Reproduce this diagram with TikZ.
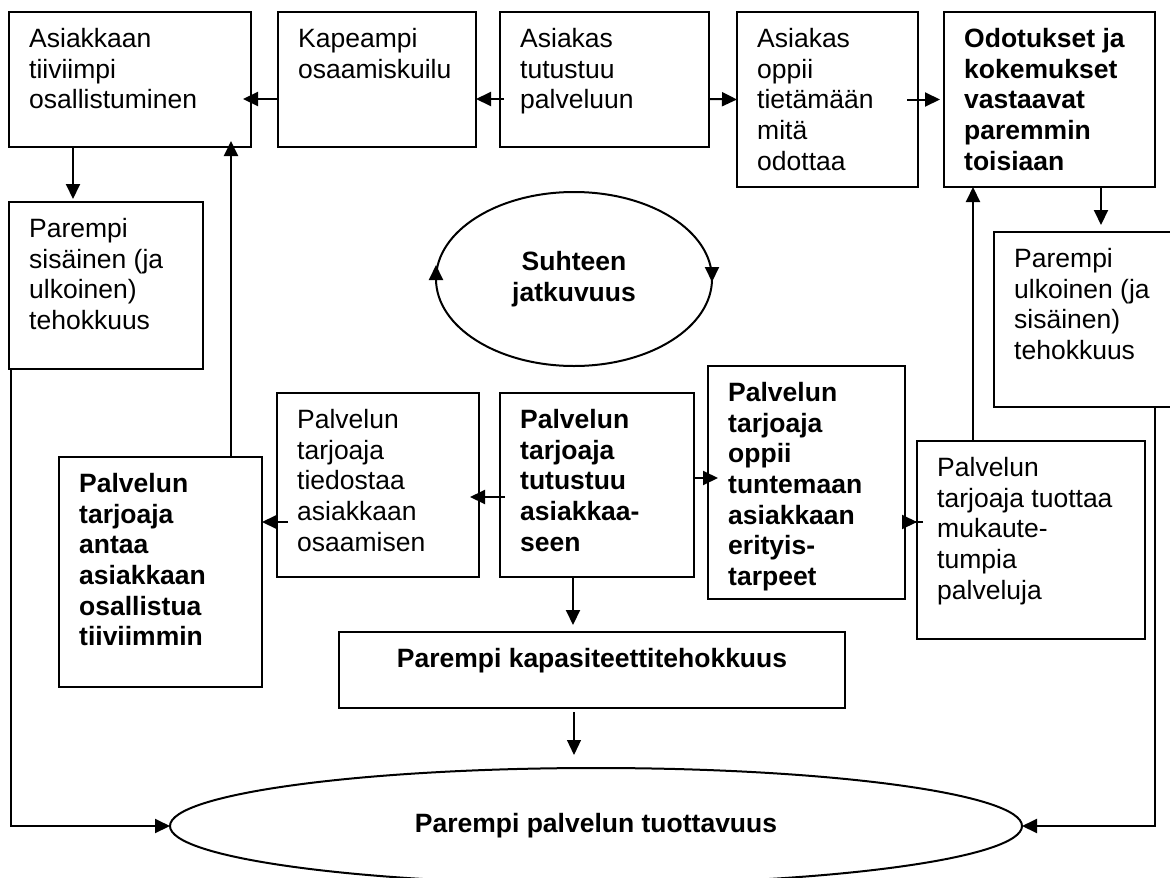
\documentclass[tikz,border=0pt]{standalone}
\usepackage{fontspec}
\setmainfont{Liberation Sans}
\usetikzlibrary{shapes.geometric,arrows.meta}

\begin{document}
\begin{tikzpicture}[x=1pt,y=-1pt,
  every node/.style={font=\fontsize{26.5}{30.7}\selectfont},
  box/.style={draw,line width=2pt,anchor=north west,inner sep=0pt,outer sep=0pt},
  txt/.style={anchor=north west,align=left,inner xsep=20pt,inner ysep=16pt},
  txtb/.style={txt,font=\fontsize{26.5}{30.7}\selectfont\bfseries},
  txtc/.style={anchor=north,align=center,inner ysep=16pt,font=\fontsize{26.5}{30.7}\selectfont\bfseries},
  oval/.style={draw,line width=2pt,ellipse,inner sep=0pt,outer sep=0pt,align=center,font=\fontsize{26.5}{30.7}\selectfont\bfseries},
  arr/.style={line width=2pt,-{Triangle[length=15pt,width=14pt]}}]
  \useasboundingbox (0,0) rectangle (1170,878);

  % top row
  \node[box,minimum width=242pt,minimum height=135pt,label={[txt]north west:{Asiakkaan\\tiiviimpi\\osallistuminen}}] (A) at (9,12) {};
  \node[box,minimum width=198pt,minimum height=135pt,label={[txt]north west:{Kapeampi\\osaamiskuilu}}] (B) at (278,12) {};
  \node[box,minimum width=209pt,minimum height=135pt,label={[txt]north west:{Asiakas\\tutustuu\\palveluun}}] (C) at (500,12) {};
  \node[box,minimum width=181pt,minimum height=175pt,label={[txt]north west:{Asiakas\\oppii\\tietämään\\mitä\\odottaa}}] (D) at (737,12) {};
  \node[box,minimum width=211pt,minimum height=175pt,label={[txtb]north west:{Odotukset ja\\kokemukset\\vastaavat\\paremmin\\toisiaan}}] (E) at (944,12) {};

  % sides
  \node[box,minimum width=194pt,minimum height=167pt,label={[txt]north west:{Parempi\\sisäinen (ja\\ulkoinen)\\tehokkuus}}] (F) at (9,202) {};
  \node[box,minimum width=181pt,minimum height=175pt,label={[txt]north west:{Parempi\\ulkoinen (ja\\sisäinen)\\tehokkuus}}] (G) at (994,232) {};
  \node[oval,minimum width=276pt,minimum height=174pt] (S) at (574,279) {Suhteen\\jatkuvuus};

  % lower row
  \node[box,minimum width=203pt,minimum height=230pt,label={[txtb]north west:{Palvelun\\tarjoaja\\antaa\\asiakkaan\\osallistua\\tiiviimmin}}] (H) at (59,457) {};
  \node[box,minimum width=202pt,minimum height=184pt,label={[txt]north west:{Palvelun\\tarjoaja\\tiedostaa\\asiakkaan\\osaamisen}}] (I) at (277,393) {};
  \node[box,minimum width=194pt,minimum height=184pt,label={[txtb]north west:{Palvelun\\tarjoaja\\tutustuu\\asiakkaa-\\seen}}] (J) at (500,393) {};
  \node[box,minimum width=197pt,minimum height=233pt,label={[txtb]north west:{Palvelun\\tarjoaja\\oppii\\tuntemaan\\asiakkaan\\erityis-\\tarpeet}}] (K) at (708,366) {};
  \node[box,minimum width=228pt,minimum height=198pt,label={[txt]north west:{Palvelun\\tarjoaja tuottaa\\mukaute-\\tumpia\\palveluja}}] (L) at (917,441) {};
  \node[box,minimum width=506pt,minimum height=76pt,label={[txtc]north:{Parempi kapasiteettitehokkuus}}] (M) at (339,632) {};
  \node[oval,minimum width=852pt,minimum height=116pt] (Bot) at (596,826) {Parempi palvelun tuottavuus};

  % connectors
  \draw[arr,shorten >=-8pt] ([yshift=-19.5pt]B.west) -- ([yshift=-19.5pt]A.east);
  \draw[arr,shorten <=-4pt] ([yshift=-19.5pt]C.west) -- ([yshift=-19.5pt]B.east);
  \draw[arr] ([yshift=-19.5pt]C.east) -- (D.west);
  \draw[arr,shorten <=-11pt,shorten >=4pt] (D.east) -- (E.west);
  \draw[arr,shorten >=3pt] ([xshift=-57pt]A.south) -- ([xshift=-57pt]A.south |- F.north);
  \draw[arr,shorten >=-6pt] ([xshift=70.5pt]H.north) -- ([xshift=70.5pt]H.north |- A.south);
  \draw[arr,shorten >=7pt] ([xshift=51.5pt]E.south) -- ([xshift=51.5pt]E.south |- G.north);
  \draw[arr] ([xshift=-58pt]L.north) -- ([xshift=-58pt]L.north |- E.south);
  \draw[arr] ([yshift=-2pt]S.west) -- ([yshift=14pt]S.west);
  \draw[arr] ([yshift=11pt]S.east) -- ([yshift=-3pt]S.east);
  \draw[arr,shorten <=-5pt,shorten >=-9pt] ([yshift=-12pt]J.west) -- ([yshift=-12pt]I.east);
  \draw[arr,shorten <=-11pt] ([yshift=-37pt]I.west) -- ([yshift=50pt]H.east);
  \draw[arr,shorten >=-10pt] ([yshift=7pt]J.east) -- ([yshift=4.5pt]K.west);
  \draw[arr,shorten <=-18pt] ([yshift=-39.5pt]K.east) -- ([yshift=18pt]L.west);
  \draw[arr,shorten >=7pt] ([xshift=-24pt]J.south) -- ([xshift=-19pt]M.north);
  \draw[arr,line width=1.2pt,shorten <=4pt,shorten >=13pt] ([xshift=-18pt]M.south) -- ([xshift=-22pt]Bot.north);
  \draw[arr] ([xshift=1.5pt]F.south west) |- (Bot.west);
  \draw[arr] ([xshift=-20pt]G.south east) |- (Bot.east);
\end{tikzpicture}
\end{document}
